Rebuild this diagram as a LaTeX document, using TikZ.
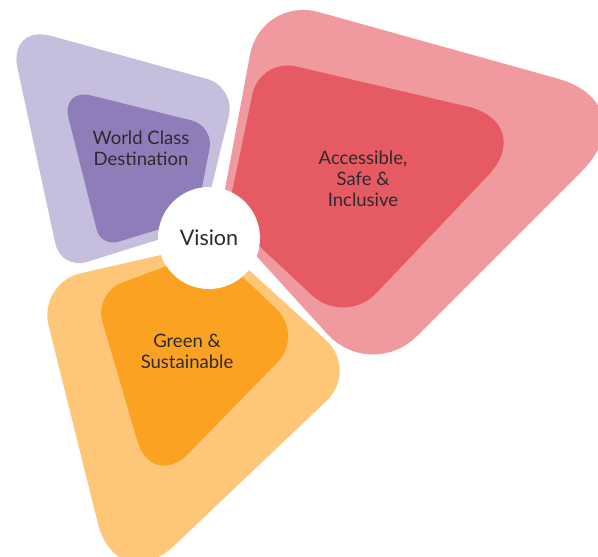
\documentclass[tikz,border=0pt]{standalone}
\usepackage{fontspec}
\setmainfont{Lato}

\definecolor{purpleLight}{HTML}{C5BEDD}
\definecolor{purpleDark}{HTML}{8F7DB9}
\definecolor{redLight}{HTML}{F09AA0}
\definecolor{redDark}{HTML}{E65A64}
\definecolor{orangeLight}{HTML}{FEC678}
\definecolor{orangeDark}{HTML}{FCA222}
\definecolor{textGray}{HTML}{2D2A2E}

\tikzset{
  theme/.style  = {align=center, text=textGray, font=\fontsize{18.5}{21}\selectfont},
  hub/.style    = {circle, fill=white, minimum size=102pt, inner sep=0pt,
                   text=textGray, font=\fontsize{21.5}{24}\selectfont}
}

\begin{document}
\begin{tikzpicture}[x=1pt, y=-1pt]
\useasboundingbox (0,0) rectangle (598,557);

% The purple petal, outer and inner
\fill[purpleLight] (202,226) [rounded corners=30pt] -- (236,87)
  [rounded corners=45pt] -- (8,24) [rounded corners=27pt] -- (61,270)
  [rounded corners=8pt] -- cycle;
\fill[purpleDark] (196,218) [rounded corners=23pt] -- (214,126)
  [rounded corners=31pt] -- (61,88) [rounded corners=18pt] -- (101,247)
  [rounded corners=8pt] -- cycle;

% The red petal
\fill[redLight] (220,216) [rounded corners=60pt] -- (261,-4)
  [rounded corners=95pt] -- (649,104) [rounded corners=65pt] -- (371,382)
  [rounded corners=8pt] -- cycle;
\fill[redDark] (227,216) [rounded corners=37pt] -- (260,58)
  [rounded corners=73pt] -- (538,123) [rounded corners=45pt] -- (345,326)
  [rounded corners=8pt] -- cycle;

% The orange petal
\fill[orangeLight] (218,242) [rounded corners=44pt] -- (38,283)
  [rounded corners=80pt] -- (117,600) [rounded corners=45pt] -- (359,370)
  [rounded corners=8pt] -- cycle;
\fill[orangeDark] (213,249) [rounded corners=30pt] -- (94,293)
  [rounded corners=53pt] -- (152,491) [rounded corners=38pt] -- (304,335)
  [rounded corners=8pt] -- cycle;

% The centre and the texts
\node[hub] (vision) at (209,238) {Vision};
\node[theme] (wcd) at (141,148) {World Class\\Destination};
\node[theme] (asi) at (363,179) {Accessible,\\Safe \&\\Inclusive};
\node[theme] (gs) at (187,351) {Green \&\\Sustainable};

\end{tikzpicture}
\end{document}
